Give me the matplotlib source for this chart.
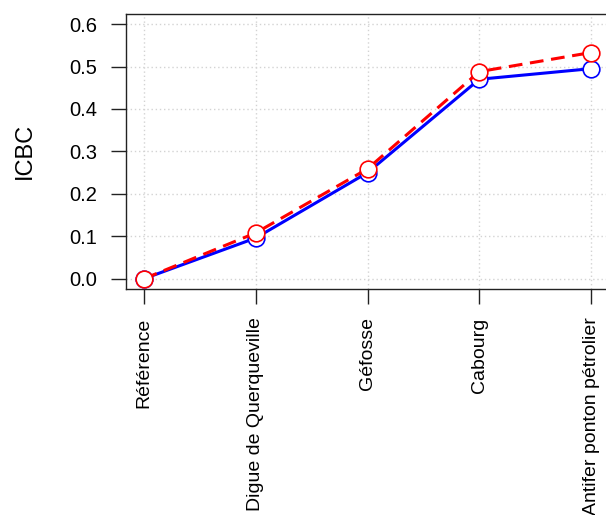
import matplotlib
matplotlib.use("Agg")
import matplotlib.pyplot as plt

plt.rcParams['font.family'] = ['Liberation Sans', 'DejaVu Sans']

sites = ["Référence", "Digue de Querqueville", "Géfosse", "Cabourg", "Antifer ponton pétrolier"]
icbc_blue = [0.0, 0.096, 0.250, 0.470, 0.495]
icbc_red = [0.0, 0.108, 0.259, 0.488, 0.533]
y_ticks = [0.0, 0.1, 0.2, 0.3, 0.4, 0.5, 0.6]

fig = plt.figure(figsize=(6.06, 5.15), dpi=100)
ax = fig.add_axes([0.208, 0.439, 0.797, 0.534])

x = list(range(len(sites)))
ax.plot(x, icbc_blue, color="#0000ff", lw=2.2, zorder=3)
ax.plot(x, icbc_blue, "o", ms=12, mfc="white", mec="#0000ff", mew=1.2, zorder=4)
ax.plot(x, icbc_red, color="#ff0000", lw=2.2, ls=(0, (4.5, 2.5)), zorder=5)
ax.plot(x, icbc_red, "o", ms=12, mfc="white", mec="#ff0000", mew=1.2, zorder=6)

ax.set_xlim(-0.16, 4.16)
ax.set_ylim(-0.024, 0.624)
ax.set_xticks(x)
ax.set_xticklabels(sites, rotation=90, fontsize=14)
ax.set_yticks(y_ticks)
ax.set_yticklabels([f"{v:.1f}" for v in y_ticks], fontsize=14.5)
ax.set_ylabel("ICBC", fontsize=17)
ax.yaxis.set_label_coords(-0.187, 0.5)

ax.grid(True, color="#d3d3d3", ls=(0, (1, 2)), lw=1)
ax.tick_params(axis="y", length=10.5, width=1, pad=10.5, color="#222222")
ax.tick_params(axis="x", length=10.5, width=1, pad=10, color="#222222")
for s in ax.spines.values():
    s.set_linewidth(1)
    s.set_color("#222222")

fig.savefig("out.png", dpi=100)
